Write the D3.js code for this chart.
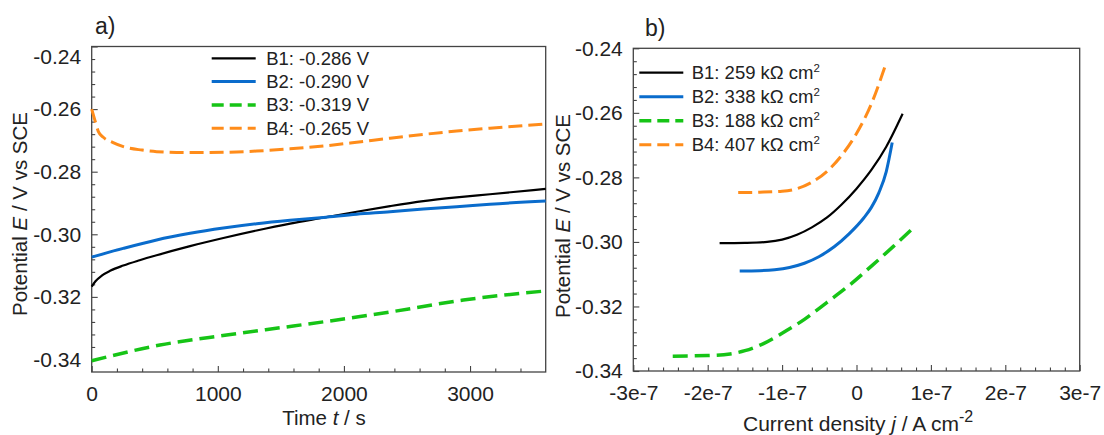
<!DOCTYPE html>
<html>
<head>
<meta charset="utf-8">
<script src="https://cdn.jsdelivr.net/npm/d3@7"></script>
<style>
	body { margin: 0; background: #fff; }
	svg { display: block; font-family: Arial, 'Liberation Sans', sans-serif; }
</style>
</head>
<body>
<div id="chart"></div>
<script>
// a) open circuit potential vs time
const timeB1 = [0, 30, 80, 150, 250, 380, 515, 780, 1044, 1308, 1573, 1837, 2101, 2366, 2630, 2894, 3158, 3600]
const ocpB1 = [-0.3167, -0.315, -0.3132, -0.3116, -0.31, -0.3083, -0.3067, -0.3038, -0.3012, -0.2988, -0.2966, -0.2947, -0.2928, -0.291, -0.2894, -0.2882, -0.2872, -0.2855]
const timeB2 = [0, 250, 515, 780, 1044, 1308, 1573, 1837, 2101, 2366, 2630, 2894, 3158, 3600]
const ocpB2 = [-0.3073, -0.3045, -0.3018, -0.2997, -0.298, -0.2966, -0.2955, -0.2946, -0.2936, -0.2928, -0.2919, -0.2912, -0.2904, -0.2894]
const timeB3 = [0, 541, 1070, 1599, 2128, 2400, 2947, 3600]
const ocpB3 = [-0.3404, -0.3354, -0.3322, -0.3293, -0.3263, -0.3246, -0.321, -0.3181]
const timeB4 = [0, 25, 53, 92, 170, 251, 400, 515, 780, 1044, 1308, 1573, 1837, 2101, 2366, 2630, 2894, 3158, 3600]
const ocpB4 = [-0.26, -0.2635, -0.2672, -0.269, -0.2707, -0.272, -0.2731, -0.2736, -0.2739, -0.2738, -0.2734, -0.2727, -0.2718, -0.2706, -0.2693, -0.2681, -0.267, -0.2661, -0.2648]
const legendA = ['B1: -0.286 V', 'B2: -0.290 V', 'B3: -0.319 V', 'B4: -0.265 V']

// b) linear polarization
const curB1 = [-1.84e-7, -1.5e-7, -1.2e-7, -1.0e-7, -0.8e-7, -0.6e-7, -0.4e-7, -0.2e-7, 0, 0.2e-7, 0.4e-7, 0.62e-7]
const potB1 = [-0.3004, -0.3003, -0.3, -0.2993, -0.2978, -0.2955, -0.2925, -0.2884, -0.2835, -0.2777, -0.2705, -0.2603]
const curB2 = [-1.57e-7, -1.3e-7, -1.1e-7, -0.9e-7, -0.7e-7, -0.5e-7, -0.3e-7, -0.1e-7, 0.1e-7, 0.2e-7, 0.3e-7, 0.4e-7, 0.48e-7]
const potB2 = [-0.309, -0.3089, -0.3086, -0.3079, -0.3066, -0.3045, -0.3015, -0.2975, -0.2925, -0.2893, -0.2848, -0.2782, -0.2692]
const curB3 = [-2.47e-7, -2.0e-7, -1.7e-7, -1.5e-7, -1.25e-7, -1.0e-7, -0.7e-7, -0.4e-7, -0.1e-7, 0.2e-7, 0.5e-7, 0.77e-7]
const potB3 = [-0.3354, -0.3352, -0.3347, -0.3337, -0.3315, -0.3283, -0.324, -0.3188, -0.3135, -0.3075, -0.3013, -0.2955]
const curB4 = [-1.59e-7, -1.3e-7, -1.0e-7, -0.8e-7, -0.6e-7, -0.4e-7, -0.2e-7, 0, 0.2e-7, 0.4e-7]
const potB4 = [-0.2847, -0.2846, -0.2843, -0.2835, -0.2815, -0.2782, -0.2732, -0.2664, -0.2572, -0.2445]
const legendB = ['B1: 259 kΩ cm', 'B2: 338 kΩ cm', 'B3: 188 kΩ cm', 'B4: 407 kΩ cm']

// axis ticks
const potTicks = [-0.24, -0.26, -0.28, -0.30, -0.32, -0.34]
const timeTicks = [0, 1000, 2000, 3000]
const curTicks = [-3e-7, -2e-7, -1e-7, 0, 1e-7, 2e-7, 3e-7]
const curTickLabels = ['-3e-7', '-2e-7', '-1e-7', '0', '1e-7', '2e-7', '3e-7']

const styles = [
	{ color: '#000000', width: 2.2, dash: null },
	{ color: '#0a6ccc', width: 3, dash: null },
	{ color: '#16c416', width: 3.5, dash: '15,7' },
	{ color: '#ff8c1a', width: 3, dash: '14,6' },
]

const svg = d3.select('#chart').append('svg').attr('width', 1104).attr('height', 435)

const zip = (xs, ys) => xs.map((x, i) => [x, ys[i]])

function styleAxis(g) {
	g.select('.domain').remove()
	g.selectAll('line').attr('stroke', '#444').attr('stroke-width', 1.1)
	g.selectAll('text').attr('font-size', 21).attr('fill', '#222').attr('font-family', null)
}

function panel(opt) {
	const { x, y } = opt
	const [x0, x1] = x.range()
	const [y0, y1] = y.range()
	const g = svg.append('g')

	// minor ticks
	g.append('g')
		.attr('transform', `translate(0,${y0})`)
		.call(d3.axisBottom(x).tickValues(opt.xMinor).tickSize(-3.5).tickFormat(''))
		.call(styleAxis)
	g.append('g')
		.attr('transform', `translate(${x0},0)`)
		.call(d3.axisLeft(y).tickValues(opt.yMinor).tickSize(-3.5).tickFormat(''))
		.call(styleAxis)

	// major ticks
	g.append('g')
		.attr('transform', `translate(0,${y0})`)
		.call(d3.axisBottom(x).tickValues(opt.xTicks).tickSize(-6).tickPadding(14).tickFormat(opt.xFormat))
		.call(styleAxis)
	const ya = g.append('g')
		.attr('transform', `translate(${x0},0)`)
		.call(d3.axisLeft(y).tickValues(potTicks).tickSize(-6).tickPadding(10.5).tickFormat((d) => d.toFixed(2)))
		.call(styleAxis)
	if (opt.topLabelShift) ya.selectAll('.tick text').filter((d) => d === -0.24).attr('dy', '0.8em')

	g.append('rect')
		.attr('x', x0).attr('y', y1)
		.attr('width', x1 - x0).attr('height', y0 - y1)
		.attr('fill', 'none').attr('stroke', '#444').attr('stroke-width', 1.3)

	const line = d3.line().x((d) => x(d[0])).y((d) => y(d[1])).curve(d3.curveMonotoneX)
	opt.series.forEach((s, i) => {
		g.append('path')
			.attr('d', line(s))
			.attr('fill', 'none')
			.attr('stroke', styles[i].color)
			.attr('stroke-width', styles[i].width)
			.attr('stroke-dasharray', styles[i].dash)
	})

	// legend
	const lg = g.append('g').attr('transform', `translate(${opt.legend[0]},${opt.legend[1]})`)
	opt.legendText.forEach((t, i) => {
		const row = lg.append('g').attr('transform', `translate(0,${i * opt.legend[2]})`)
		row.append('line')
			.attr('x1', 0).attr('x2', 44)
			.attr('stroke', styles[i].color)
			.attr('stroke-width', styles[i].width)
			.attr('stroke-dasharray', styles[i].dash ? '12,6' : null)
		const txt = row.append('text').attr('x', opt.legend[3]).attr('y', 6.5).attr('font-size', 18.5).attr('fill', '#222').text(t)
		if (opt.sup) txt.append('tspan').attr('font-size', 11.5).attr('dy', -7.5).text('2')
	})
	return g
}

const xA = d3.scaleLinear().domain([0, 3600]).range([91.7, 545.7])
const yA = d3.scaleLinear().domain([-0.344, -0.24]).range([372, 46.5])
panel({
	x: xA, y: yA,
	xTicks: timeTicks, xFormat: (d) => d,
	xMinor: d3.range(200, 3600, 200).filter((d) => d % 1000),
	yMinor: d3.range(1, 26).filter((i) => i % 5).map((i) => -0.24 - i * 0.004),
	topLabelShift: true,
	series: [zip(timeB1, ocpB1), zip(timeB2, ocpB2), zip(timeB3, ocpB3), zip(timeB4, ocpB4)],
	legend: [211.7, 58.3, 23.3, 54.5],
	legendText: legendA,
})

const xB = d3.scaleLinear().domain([-3e-7, 3e-7]).range([633.3, 1079.7])
const yB = d3.scaleLinear().domain([-0.34, -0.24]).range([371, 48.3])
panel({
	x: xB, y: yB,
	xTicks: curTicks, xFormat: (d, i) => curTickLabels[i],
	xMinor: d3.range(-30, 31, 2).filter((i) => i % 10).map((i) => i * 1e-8),
	yMinor: d3.range(1, 25).filter((i) => i % 5).map((i) => -0.24 - i * 0.004),
	series: [zip(curB1, potB1), zip(curB2, potB2), zip(curB3, potB3), zip(curB4, potB4)],
	legend: [639.3, 72.7, 24, 52.4],
	legendText: legendB,
	sup: true,
})

// panel letters and axis titles
svg.append('text').attr('x', 95).attr('y', 34).attr('font-size', 23).attr('fill', '#222').text('a)')
svg.append('text').attr('x', 645).attr('y', 36).attr('font-size', 23).attr('fill', '#222').text('b)')

function yTitle(cx, cy) {
	const t = svg.append('text')
		.attr('transform', `translate(${cx},${cy}) rotate(-90)`)
		.attr('text-anchor', 'middle').attr('font-size', 20.5).attr('fill', '#222')
	t.append('tspan').text('Potential ')
	t.append('tspan').attr('font-style', 'italic').text('E')
	t.append('tspan').text(' / V vs SCE')
}
yTitle(27, 214)
yTitle(570, 216)

const tA = svg.append('text').attr('x', 324).attr('y', 425).attr('text-anchor', 'middle').attr('font-size', 20.5).attr('fill', '#222')
tA.append('tspan').text('Time ')
tA.append('tspan').attr('font-style', 'italic').text('t')
tA.append('tspan').text(' / s')

const tB = svg.append('text').attr('x', 743).attr('y', 431).attr('font-size', 21).attr('fill', '#222')
tB.append('tspan').text('Current density ')
tB.append('tspan').attr('font-style', 'italic').text('j')
tB.append('tspan').text(' / A cm')
tB.append('tspan').attr('font-size', 16).attr('dy', -9).text('-2')
</script>
</body>
</html>
